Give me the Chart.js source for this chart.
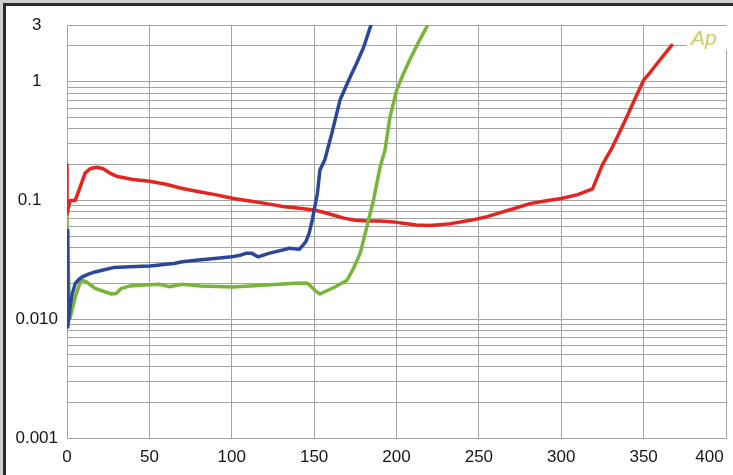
<!DOCTYPE html>
<html>
<head>
<meta charset="utf-8">
<script src="https://cdn.jsdelivr.net/npm/chart.js@4"></script>
<style>
  html, body { margin: 0; padding: 0; background: #cfcfcf; overflow: hidden; }
  #frame {
    position: absolute; left: 3px; top: 3px;
    width: 740px; height: 480px;
    border: 3px solid #2b2b2b; background: #fff;
  }
  #wrap { position: absolute; left: 0; top: 0; width: 727px; height: 469px; }
  #logo {
    position: absolute; left: 681px; top: 20px; width: 37px; height: 24px;
    background: #fff; padding-left: 4px;
    font: italic 21px "Liberation Sans", Arial, sans-serif; line-height: 24px;
    color: #cfca6a;
  }
</style>
</head>
<body>
<div id="frame">
  <div id="wrap"><canvas id="chart"></canvas></div>
  <div id="logo">Ap</div>
</div>
<script>
// Axis ticks
const xTicks = [0, 50, 100, 150, 200, 250, 300, 350, 400];
const yGrid = [0.001, 0.002, 0.003, 0.004, 0.005, 0.006, 0.007, 0.008, 0.009,
               0.01, 0.02, 0.03, 0.04, 0.05, 0.06, 0.07, 0.08, 0.09,
               0.1, 0.2, 0.3, 0.4, 0.5, 0.6, 0.7, 0.8, 0.9, 1, 2, 3];
const yLabelValues = [0.001, 0.01, 0.1, 1, 3];
const yLabelText = ['0.001', '0.010', '0.1\u00a0\u00a0\u00a0', '1', '3'];

// Red trace
const redX = [0, 0, 1, 2, 5, 8, 11, 14, 18, 22, 26, 30, 40, 50, 60, 70, 81, 90, 101, 111,
              121, 131, 141, 150, 155, 162, 168, 175, 182, 190, 198, 205, 212, 220, 232, 245,
              255, 263, 272, 281, 290, 300, 310, 319, 325, 331, 338, 344, 350, 354, 360, 367];
const redY = [0.2, 0.075, 0.09, 0.1, 0.1, 0.13, 0.17, 0.185, 0.19, 0.185, 0.17, 0.16, 0.15, 0.145, 0.137, 0.126, 0.118, 0.112, 0.104, 0.099,
              0.094, 0.089, 0.086, 0.083, 0.08, 0.075, 0.071, 0.068, 0.067, 0.067, 0.066, 0.064, 0.062, 0.0615, 0.0635, 0.068,
              0.073, 0.079, 0.086, 0.094, 0.099, 0.104, 0.112, 0.125, 0.2, 0.28, 0.447, 0.68, 1.03, 1.2, 1.53, 2.02];

// Blue trace
const blueX = [0, 0.5, 2, 3, 5, 7, 9, 13, 17, 22, 28, 35, 42, 50, 55, 60, 65, 70, 80, 91,
               100, 105, 109, 112, 116, 123, 130, 135, 141, 145, 147, 149, 150, 152, 153.5, 156.5,
               161, 165.7, 171.8, 176, 180, 184.5];
const blueY = [0.056, 0.0086, 0.0131, 0.0159, 0.02, 0.0215, 0.0226, 0.024, 0.025, 0.026, 0.0272, 0.0275, 0.0278, 0.028, 0.0285, 0.029, 0.0295, 0.0305, 0.0315, 0.0326,
               0.0335, 0.0345, 0.036, 0.036, 0.0335, 0.036, 0.038, 0.0396, 0.0388, 0.045, 0.053, 0.07, 0.083, 0.115, 0.18, 0.22,
               0.38, 0.7, 1.09, 1.45, 1.94, 3.0];

// Green trace
const greenX = [0, 0, 1.8, 5, 8, 9.5, 12, 17, 22, 27, 30, 33, 38, 44, 50, 56, 62, 70, 81, 101,
                111, 131, 141, 146, 150.5, 153.5, 162, 170, 174, 178, 182, 186, 190, 193, 196, 200,
                204, 208, 213, 219];
const greenY = [0.075, 0.056, 0.0102, 0.0153, 0.0205, 0.0213, 0.0205, 0.0182, 0.0172, 0.0163, 0.0165, 0.0182, 0.019, 0.0193, 0.0195, 0.0197, 0.0188, 0.0197, 0.019, 0.0187,
                0.019, 0.0198, 0.0202, 0.0201, 0.0175, 0.0163, 0.0185, 0.0213, 0.027, 0.036, 0.06, 0.1, 0.19, 0.265, 0.5, 0.84,
                1.15, 1.52, 2.1, 3.0];

function pts(xs, ys) {
    return xs.map((x, i) => ({ x: x, y: ys[i] }));
}

function lineSet(label, xs, ys, color) {
    return {
        label: label,
        data: pts(xs, ys),
        borderColor: color,
        borderWidth: 3.5,
        pointRadius: 0,
        tension: 0,
        fill: false,
        borderJoinStyle: 'round',
        borderCapStyle: 'round'
    };
}

const tickFont = { family: '"Liberation Sans", Arial, sans-serif', size: 17 };
const gridColor = '#a3a3a3';

const ctx = document.getElementById('chart').getContext('2d');
new Chart(ctx, {
    type: 'line',
    data: {
        datasets: [
            lineSet('blue', blueX, blueY, '#2c4799'),
            lineSet('green', greenX, greenY, '#78b538'),
            lineSet('red', redX, redY, '#e2261f')
        ]
    },
    options: {
        responsive: true,
        maintainAspectRatio: false,
        animation: false,
        layout: {
            autoPadding: false,
            padding: { left: 0, top: 19, right: 7, bottom: 0 }
        },
        plugins: {
            legend: { display: false },
            tooltip: { enabled: false }
        },
        scales: {
            x: {
                type: 'linear',
                min: 0,
                max: 400,
                afterBuildTicks: scale => {
                    scale.ticks = xTicks.map(v => ({ value: v }));
                },
                afterFit: scale => {
                    scale.height = 37;
                    // keep the plot edge fixed; the last label is nudged by its own padding
                    scale.paddingLeft = 0;
                    scale.paddingRight = 0;
                },
                grid: { color: gridColor, lineWidth: 1, drawTicks: false },
                border: { color: gridColor, width: 1 },
                ticks: {
                    font: tickFont,
                    color: '#151515',
                    padding: 9,
                    maxRotation: 0,
                    autoSkip: false,
                    callback: value => value === 400 ? '400' + '\u00a0'.repeat(7) : String(value)
                }
            },
            y: {
                type: 'logarithmic',
                min: 0.001,
                max: 3,
                afterBuildTicks: scale => {
                    scale.ticks = yGrid.map(v => ({ value: v }));
                },
                afterFit: scale => {
                    scale.width = 61;
                    scale.paddingTop = 0;
                    scale.paddingBottom = 0;
                },
                grid: { color: gridColor, lineWidth: 1, drawTicks: false },
                border: { color: gridColor, width: 1 },
                ticks: {
                    font: tickFont,
                    color: '#151515',
                    padding: 9,
                    crossAlign: 'center',
                    autoSkip: false,
                    callback: value => {
                        const i = yLabelValues.findIndex(v => Math.abs(v - value) / v < 1e-6);
                        return i >= 0 ? yLabelText[i] : '';
                    }
                }
            }
        }
    }
});
</script>
</body>
</html>
